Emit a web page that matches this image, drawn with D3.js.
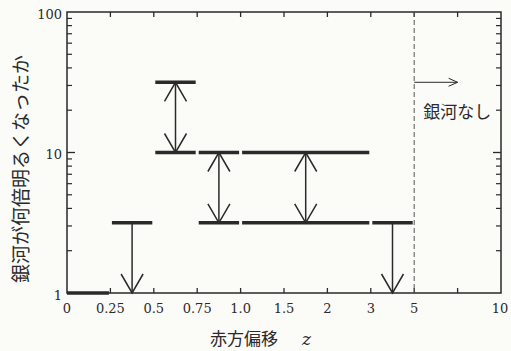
<!DOCTYPE html>
<html>
<head>
<meta charset="utf-8">
<script src="https://cdn.jsdelivr.net/npm/d3@7"></script>
<style>
  html, body { margin: 0; padding: 0; background: #fbfbf8; }
  svg { display: block; }
</style>
</head>
<body>
<script>
// Redshift bin edges, placed at evenly spaced positions along the axis
const tickLabels = ["0", "0.25", "0.5", "0.75", "1.0", "1.5", "2", "3", "5", "", "10"];
// Each brightening bin: start/end position (tick index), lower and upper brightening factor
const binStart = [0, 1, 2, 3, 4, 7];
const binEnd   = [1, 2, 3, 4, 7, 8];
const upper    = [1, 3.16, 31.6, 10, 10, 3.16];
const lower    = [1, 1, 10, 3.16, 3.16, 1];
// "level": single bar; "limit": upper limit with arrow down; "range": two bars with double arrow
const kind     = ["level", "limit", "range", "range", "range", "limit"];
const noGalaxyFrom = 8;   // tick index of z = 5
const yTicks = [1, 10, 100];

const W = 511, H = 351;
const m = { left: 67, right: 10, top: 12, bottom: 58 };
const ink = "#2a2a2a";

const svg = d3.select("body").append("svg").attr("width", W).attr("height", H);

const x = d3.scaleLinear().domain([0, 10]).range([m.left, W - m.right]);
const y = d3.scaleLog().domain([1, 100]).range([H - m.bottom, m.top]);

const minor = [];
for (let d = 1; d < 100; d *= 10) for (let k = 2; k <= 9; k++) minor.push(d * k);

const g = svg.append("g");

// Frame
g.append("rect")
  .attr("x", x(0)).attr("y", y(100))
  .attr("width", x(10) - x(0)).attr("height", y(1) - y(100))
  .attr("fill", "none").attr("stroke", ink).attr("stroke-width", 1.5);

// X ticks (inward, bottom and top)
const xIdx = d3.range(1, 10);
g.selectAll(".xt").data(xIdx).join("line")
  .attr("x1", d => x(d)).attr("x2", d => x(d))
  .attr("y1", y(1)).attr("y2", y(1) - 5)
  .attr("stroke", ink).attr("stroke-width", 1.3);
g.selectAll(".xtt").data(xIdx).join("line")
  .attr("x1", d => x(d)).attr("x2", d => x(d))
  .attr("y1", y(100)).attr("y2", y(100) + 5)
  .attr("stroke", ink).attr("stroke-width", 1.3);

// Y ticks (inward, left and right)
[[x(0), 1], [x(10), -1]].forEach(([x0, dir]) => {
  g.selectAll(null).data(minor).join("line")
    .attr("x1", x0).attr("x2", x0 + dir * 5)
    .attr("y1", d => y(d)).attr("y2", d => y(d))
    .attr("stroke", ink).attr("stroke-width", 1.2);
  g.selectAll(null).data([10]).join("line")
    .attr("x1", x0).attr("x2", x0 + dir * 8)
    .attr("y1", d => y(d)).attr("y2", d => y(d))
    .attr("stroke", ink).attr("stroke-width", 1.3);
});

// Tick labels
const numFont = "'DejaVu Serif', serif";
g.selectAll(".xl").data(tickLabels).join("text")
  .attr("x", (d, i) => x(i) - (i === 10 ? 1 : 0)).attr("y", y(1) + 15)
  .attr("text-anchor", "middle").attr("dominant-baseline", "central")
  .attr("font-family", numFont).attr("font-size", 13).attr("fill", ink)
  .text(d => d);
g.selectAll(".yl").data(yTicks).join("text")
  .attr("x", x(0) - 5).attr("y", d => y(d) + 2)
  .attr("text-anchor", "end").attr("dominant-baseline", "central")
  .attr("font-family", numFont).attr("font-size", 13).attr("fill", ink)
  .text(d => d);

// Open V arrow head with its tip at (xt, yt)
function arrowHead(sel, xt, yt, dir, hw, len, sw) {
  sel.append("path")
    .attr("d", `M${xt - hw},${yt + dir * len} L${xt},${yt} L${xt + hw},${yt + dir * len}`)
    .attr("fill", "none").attr("stroke", ink).attr("stroke-width", sw);
}

const bins = binStart.map((s, i) => ({ s, e: binEnd[i], lo: lower[i], hi: upper[i], kind: kind[i] }));
const inset = 1.5;

bins.forEach(b => {
  const x1 = x(b.s) + (b.s === 0 ? 0 : inset);
  const x2 = x(b.e) - inset;
  const xc = (x(b.s) + x(b.e)) / 2;
  const bar = v => g.append("line")
    .attr("x1", x1).attr("x2", x2).attr("y1", y(v)).attr("y2", y(v))
    .attr("stroke", ink).attr("stroke-width", 3.5);
  bar(b.hi);
  if (b.kind === "range") bar(b.lo);
  if (b.kind === "limit" || b.kind === "range") {
    g.append("line")
      .attr("x1", xc).attr("x2", xc)
      .attr("y1", y(b.hi)).attr("y2", y(b.lo))
      .attr("stroke", ink).attr("stroke-width", 1.5);
    arrowHead(g, xc, y(b.lo), -1, 11, 19, 1.5);
    if (b.kind === "range") arrowHead(g, xc, y(b.hi), 1, 11, 19, 1.5);
  }
});

// Boundary beyond which no galaxies are found
g.append("line")
  .attr("x1", x(noGalaxyFrom)).attr("x2", x(noGalaxyFrom))
  .attr("y1", y(100)).attr("y2", y(1))
  .attr("stroke", "#555").attr("stroke-width", 1).attr("stroke-dasharray", "5,3");
const ya = y(31.6);
g.append("line")
  .attr("x1", x(noGalaxyFrom)).attr("x2", x(noGalaxyFrom + 1))
  .attr("y1", ya).attr("y2", ya)
  .attr("stroke", ink).attr("stroke-width", 1);
g.append("path")
  .attr("d", `M${x(noGalaxyFrom + 1) - 9},${ya - 4} L${x(noGalaxyFrom + 1)},${ya} L${x(noGalaxyFrom + 1) - 9},${ya + 4}`)
  .attr("fill", "none").attr("stroke", ink).attr("stroke-width", 1);
g.append("text")
  .attr("x", x(noGalaxyFrom) + 9).attr("y", y(20))
  .attr("dominant-baseline", "central")
  .attr("font-family", "'Noto Sans CJK JP', sans-serif").attr("font-size", 17)
  .attr("fill", ink)
  .text("銀河なし");

// Axis titles
const xt = g.append("text")
  .attr("x", 210).attr("y", 345)
  .attr("font-family", "'Noto Sans CJK JP', sans-serif").attr("font-size", 17)
  .attr("fill", ink);
xt.append("tspan").text("赤方偏移");
xt.append("tspan").attr("dx", 24)
  .attr("font-family", "'DejaVu Serif', serif").attr("font-style", "italic").attr("font-size", 17)
  .text("z");

g.append("text")
  .attr("transform", `translate(19,169) rotate(-90)`)
  .attr("text-anchor", "middle").attr("dominant-baseline", "central")
  .attr("font-family", "'Noto Sans CJK JP', sans-serif").attr("font-size", 19)
  .attr("fill", ink)
  .text("銀河が何倍明るくなったか");
</script>
</body>
</html>
